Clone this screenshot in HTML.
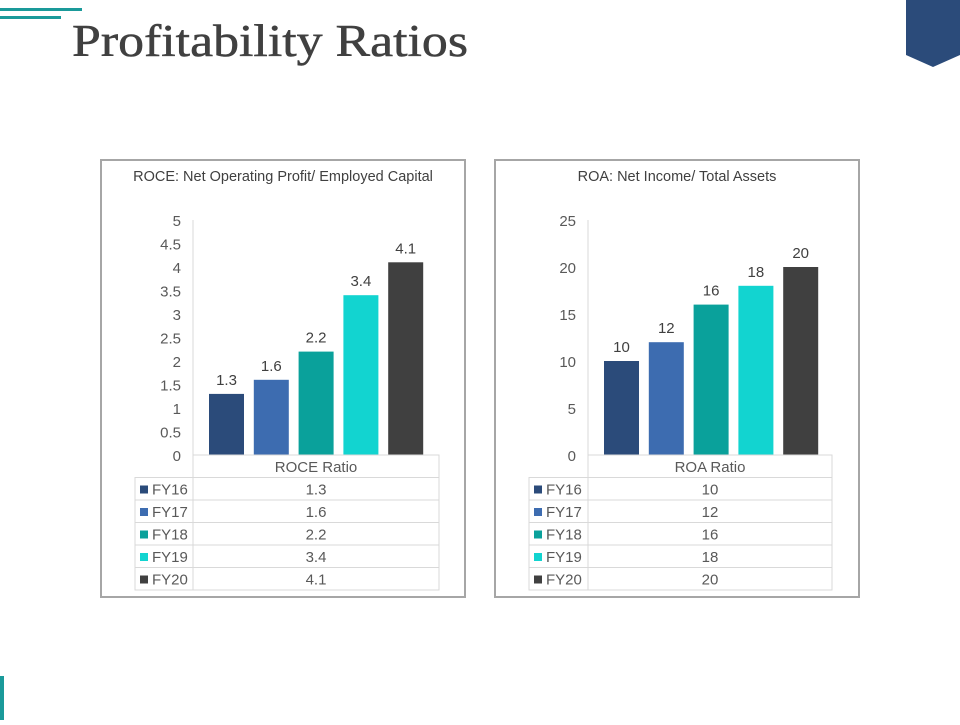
<!DOCTYPE html>
<html><head><meta charset="utf-8"><style>
body{margin:0;width:960px;height:720px;background:#fff;overflow:hidden;font-family:"Liberation Sans",sans-serif}
</style></head><body>
<svg id="s" width="960" height="720" xmlns="http://www.w3.org/2000/svg">
<rect x="0" y="8" width="82" height="3" fill="#1a9a9a"/>
<rect x="0" y="16" width="61" height="3" fill="#1a9a9a"/>
<text x="72" y="56" font-family="Liberation Serif,serif" font-size="45" fill="#404040" textLength="396" lengthAdjust="spacingAndGlyphs" stroke="#404040" stroke-width="0.5">Profitability Ratios</text>
<polygon points="906,0 960,0 960,55 933,67 906,55" fill="#2b4b7a"/>
<rect x="0" y="676" width="4" height="44" fill="#1a9a9a"/>
</svg>
<script>
const years=["FY16","FY17","FY18","FY19","FY20"];
const roceValues=[1.3,1.6,2.2,3.4,4.1];
const roaValues=[10,12,16,18,20];
const roceTicks=["0","0.5","1","1.5","2","2.5","3","3.5","4","4.5","5"];
const roaTicks=["0","5","10","15","20","25"];
const colors=["#2b4b7a","#3d6cb0","#0aa19b","#12d4d0","#404040"];
const S=document.getElementById('s');const NS="http://www.w3.org/2000/svg";
function mk(t,a,txt){const e=document.createElementNS(NS,t);for(const k in a)e.setAttribute(k,a[k]);if(txt!==undefined)e.textContent=txt;S.appendChild(e);return e;}
function chart(o){
 let e=mk('rect',{x:o.bx,y:160,width:364,height:437,fill:'#fff',stroke:'#a6a6a6','stroke-width':2});
 
 e=mk('text',{x:o.bx+182,y:181,'text-anchor':'middle','font-size':14.5,fill:'#404040'},o.title);
 
 const y0=455,y1=220,max=o.max;const Y=v=>y0-(v/max)*(y0-y1);
 o.ticks.forEach((t,i)=>{const v=parseFloat(t);e=mk('text',{x:o.ax-12,y:Y(v)+6,'text-anchor':'end','font-size':15,fill:'#595959'},t);
  });
 e=mk('line',{x1:o.ax,y1:220,x2:o.ax,y2:455,stroke:'#d9d9d9'});
 
 const X=i=>o.ax+16+i*44.8;
 o.vals.forEach((v,i)=>{e=mk('rect',{x:X(i),y:Y(v),width:35,height:y0-Y(v),fill:colors[i]});
  
  e=mk('text',{x:X(i)+17.5,y:Y(v)-9,'text-anchor':'middle','font-size':15,fill:'#404040'},String(v));
  });
 const tl=o.tl,tr=o.tr,rh=22.5;
 e=mk('rect',{x:o.ax,y:455,width:tr-o.ax,height:rh,fill:'none',stroke:'#d9d9d9'});
 
 e=mk('text',{x:(o.ax+tr)/2,y:472,'text-anchor':'middle','font-size':15,fill:'#595959'},o.series);
 
 o.vals.forEach((v,i)=>{const ry=455+rh*(i+1);
  e=mk('rect',{x:tl,y:ry,width:tr-tl,height:rh,fill:'none',stroke:'#d9d9d9'});
  
  mk('line',{x1:o.ax,y1:ry,x2:o.ax,y2:ry+rh,stroke:'#d9d9d9'});
  e=mk('rect',{x:tl+5,y:ry+8,width:8,height:8,fill:colors[i]});
  
  e=mk('text',{x:tl+17,y:ry+17,'font-size':15,fill:'#595959'},years[i]);
  
  e=mk('text',{x:(o.ax+tr)/2,y:ry+17,'text-anchor':'middle','font-size':15,fill:'#595959'},String(v));
  });
}
chart({id:'roce',bx:101,ax:193,tl:135,tr:439,max:5,ticks:roceTicks,vals:roceValues,title:'ROCE: Net Operating Profit/ Employed Capital',series:'ROCE Ratio'});
chart({id:'roa',bx:495,ax:588,tl:529,tr:832,max:25,ticks:roaTicks,vals:roaValues,title:'ROA: Net Income/ Total Assets',series:'ROA Ratio'});
</script>
</body></html>
